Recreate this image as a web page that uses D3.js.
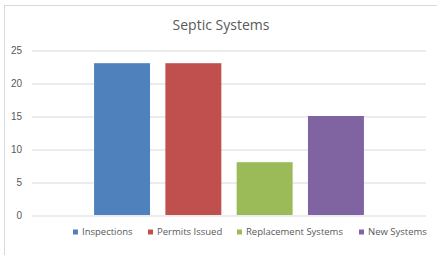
<!DOCTYPE html>
<html>
<head>
<meta charset="utf-8">
<script src="https://cdn.jsdelivr.net/npm/d3@7"></script>
<style>
  body { margin: 0; background: #fff; }
  svg { display: block; font-family: "Open Sans", "Liberation Sans", sans-serif; }
  .grid line { stroke: #d9d9d9; stroke-width: 1; }
  .grid .domain { display: none; }
  .yaxis text { fill: #595959; font-size: 10px; }
  .yaxis .domain, .yaxis line { display: none; }
</style>
</head>
<body>
<svg width="437" height="255"></svg>
<script>
// datos del gráfico
const titulo = 'Septic Systems';
const categoria = ['Septic Systems'];
const series = ['Inspections', 'Permits Issued', 'Replacement Systems', 'New Systems'];
const valores = [23, 23, 8, 15];
const colores = ['#4f81bd', '#c0504d', '#9bbb59', '#8064a2'];
const yTicks = [0, 5, 10, 15, 20, 25];

const svg = d3.select('svg');
const ancho = +svg.attr('width');
const altura = +svg.attr('height');

// borde del área del gráfico (se corta a la derecha y abajo)
svg.append('rect')
  .attr('x', 4.5).attr('y', 5.5)
  .attr('width', 440).attr('height', 260)
  .attr('fill', '#fff').attr('stroke', '#d9d9d9');

const margin = { top: 50, right: 11, bottom: 40, left: 32 };
const anchoInterno = ancho - margin.left - margin.right;
const alturaInterna = altura - margin.top - margin.bottom;

const grupo = svg.append('g')
  .attr('transform', `translate(${margin.left}, ${margin.top})`);

const yScale = d3.scaleLinear().domain([0, 25]).range([alturaInterna, 0]);

// una sola categoría, cuatro series agrupadas
const x0 = d3.scaleBand().domain(categoria).range([0, anchoInterno]).paddingOuter(0.23);
const x1 = d3.scaleBand().domain(series).range([0, x0.bandwidth()]).paddingInner(0.215);

// líneas de cuadrícula
grupo.append('g').attr('class', 'grid')
  .call(d3.axisLeft(yScale).tickValues(yTicks).tickSize(-anchoInterno).tickFormat(''))
  .selectAll('line').attr('transform', 'translate(0,0.5)');

// eje y
grupo.append('g').attr('class', 'yaxis')
  .attr('transform', 'translate(-10,0)')
  .call(d3.axisLeft(yScale).tickValues(yTicks).tickSize(0).tickPadding(0))
  .selectAll('text').attr('dy', '0.35em');

// barras
const barras = grupo.append('g')
  .attr('transform', `translate(${x0(categoria[0])},0)`);
barras.selectAll('rect').data(series)
  .enter().append('rect')
  .attr('x', d => x1(d))
  .attr('y', (d, i) => yScale(valores[i]))
  .attr('width', x1.bandwidth())
  .attr('height', (d, i) => yScale(0) - yScale(valores[i]))
  .attr('fill', (d, i) => colores[i]);

// título
svg.append('text')
  .text(titulo)
  .attr('x', 221).attr('y', 30)
  .attr('text-anchor', 'middle')
  .attr('fill', '#595959')
  .style('font-size', '14px');

// leyenda
const leyendaX = [73, 148, 237, 359];
const leyenda = svg.append('g').attr('transform', 'translate(0,232)');
const item = leyenda.selectAll('g').data(series).enter().append('g')
  .attr('transform', (d, i) => `translate(${leyendaX[i]},0)`);
item.append('rect')
  .attr('x', 0).attr('y', -2.5)
  .attr('width', 5).attr('height', 5)
  .attr('fill', (d, i) => colores[i]);
item.append('text')
  .text(d => d)
  .attr('x', 9).attr('y', 0).attr('dy', '0.35em')
  .attr('fill', '#595959')
  .style('font-size', '9.5px');
</script>
</body>
</html>
